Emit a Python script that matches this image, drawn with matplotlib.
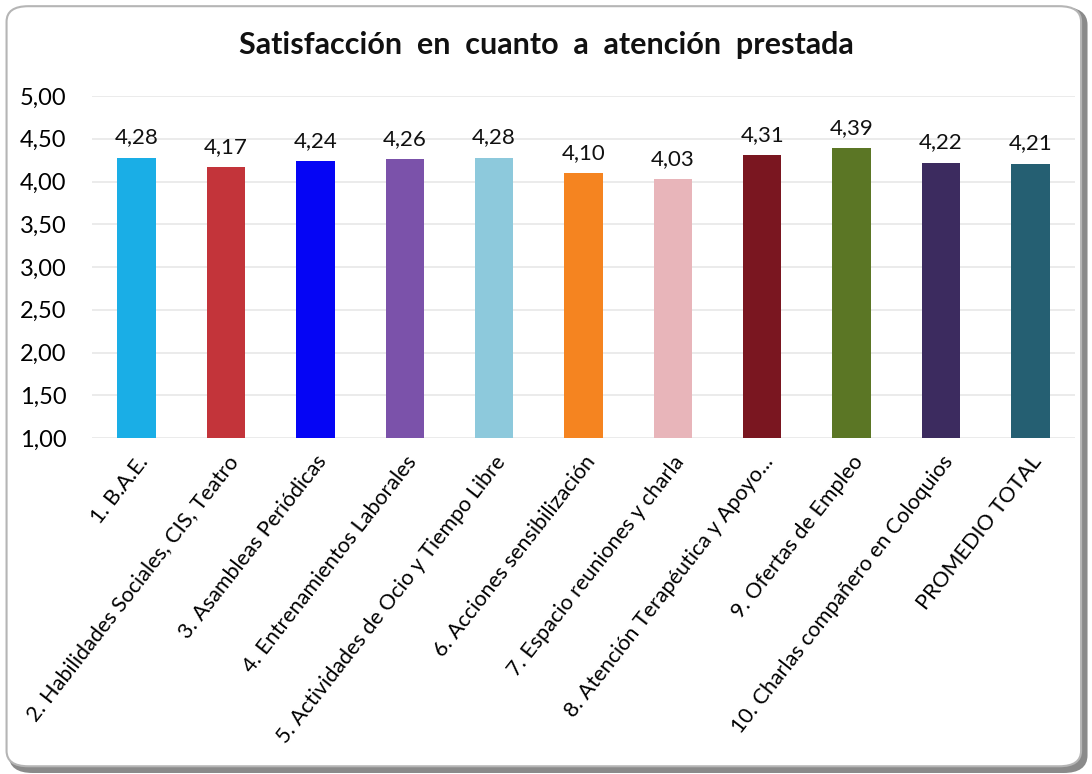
import matplotlib
matplotlib.use("Agg")
import matplotlib.pyplot as plt
from matplotlib.patches import FancyBboxPatch

categories = ["1. B.A.E.", "2. Habilidades Sociales, CIS, Teatro", "3. Asambleas Periódicas",
              "4. Entrenamientos Laborales", "5. Actividades de Ocio y Tiempo Libre",
              "6. Acciones sensibilización", "7. Espacio reuniones y charla",
              "8. Atención Terapéutica y Apoyo...", "9. Ofertas de Empleo",
              "10. Charlas compañero en Coloquios", "PROMEDIO TOTAL"]
values = [4.28, 4.17, 4.24, 4.26, 4.28, 4.10, 4.03, 4.31, 4.39, 4.22, 4.21]
colors = ["#1AAEE6", "#C3343A", "#0505F5", "#7B52AA", "#8DC9DC", "#F58420",
          "#E8B5BA", "#7A1620", "#5B7625", "#3C2B5F", "#255F72"]
yticks = [1.0, 1.5, 2.0, 2.5, 3.0, 3.5, 4.0, 4.5, 5.0]

plt.rcParams['font.family'] = ['Lato', 'DejaVu Sans']

fig = plt.figure(figsize=(10.92, 7.74), dpi=100)
fig.patch.set_facecolor("white")
shadow = FancyBboxPatch((0.010, 0.004), 0.984, 0.984, boxstyle="round,pad=0,rounding_size=0.02",
                        transform=fig.transFigure, facecolor="#8a8a8a", edgecolor="#8a8a8a",
                        linewidth=3, zorder=-2)
frame = FancyBboxPatch((0.006, 0.010), 0.984, 0.982, boxstyle="round,pad=0,rounding_size=0.02",
                       transform=fig.transFigure, facecolor="white", edgecolor="#b5b5b5",
                       linewidth=1.5, zorder=-1)
fig.patches.extend([shadow, frame])

ax = fig.add_axes([92/1092, 1 - 438/774, (1075 - 92)/1092, 342/774])
ax.set_facecolor("none")
x = range(len(categories))
ax.bar(x, [v - 1.0 for v in values], bottom=1.0, width=0.43, color=colors, zorder=3)
for xi, v in zip(x, values):
    ax.text(xi, v + 0.12, f"{v:.2f}".replace(".", ","), ha="center", va="bottom",
            fontsize=16, color="#111111")
ax.set_ylim(1.0, 5.0)
ax.set_xlim(-0.5, len(categories) - 0.5)
ax.set_yticks(yticks)
ax.set_yticklabels([f"{t:.2f}".replace(".", ",") for t in yticks], fontsize=17)
ax.set_xticks(list(x))
ax.set_xticklabels(categories, rotation=52, ha="right", rotation_mode="anchor", fontsize=15.5)
ax.tick_params(axis="both", length=0)
ax.tick_params(axis="x", pad=10)
ax.tick_params(axis="y", pad=52)
for lab in ax.get_yticklabels():
    lab.set_horizontalalignment("left")
ax.grid(axis="y", color="#e8e8e8", linewidth=1.2, zorder=0)
for s in ax.spines.values():
    s.set_visible(False)

fig.text(0.5, 1 - 45/774, "Satisfacción  en  cuanto  a  atención  prestada", ha="center", va="center",
         fontsize=22, fontweight="bold", color="#111111")

fig.savefig("out.png", dpi=100)
